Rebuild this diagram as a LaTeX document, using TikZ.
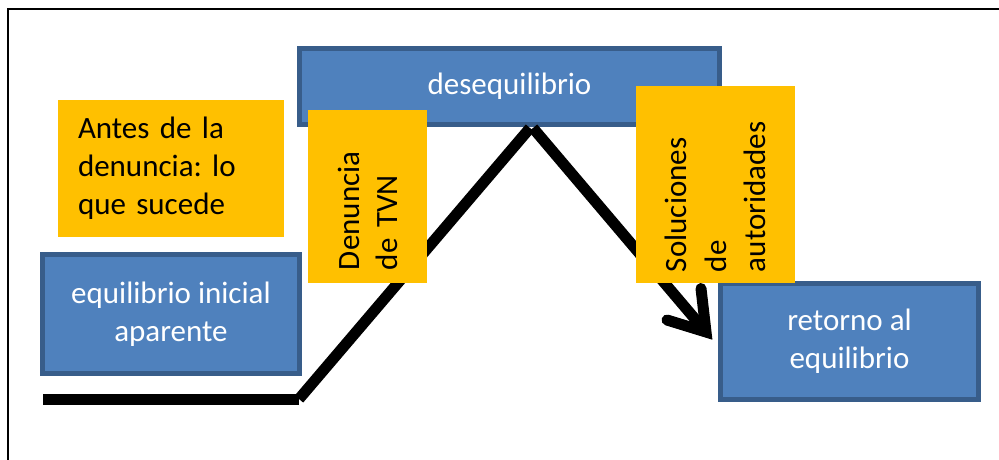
\documentclass[tikz,border=0pt]{standalone}
\usepackage{fontspec}
\setmainfont{Carlito}
\frenchspacing
\definecolor{bluefill}{HTML}{4F81BD}
\definecolor{bluedark}{HTML}{385D8A}
\definecolor{orangefill}{HTML}{FFC000}
\begin{document}
\frenchspacing
\begin{tikzpicture}[x=1pt,y=-1pt,
  txt/.style={font=\fontsize{31}{38}\selectfont},
  bluebox/.style={txt, draw=bluedark, fill=bluefill, line width=5pt, text=white, align=center, inner sep=0pt},
  orangebox/.style={txt, fill=orangefill, text=black, align=left, inner sep=0pt},
  thickline/.style={line width=11pt, line cap=butt, black},
  arrowarms/.style={line width=11pt, line cap=round, line join=miter, black}]
\useasboundingbox (0,0) rectangle (999,460);
\fill[white] (0,0) rectangle (999,460);
\draw[line width=2pt] (8,461) -- (8,9) -- (1000,9);
% blue boxes
\node[bluebox, minimum width=257pt, minimum height=119pt] (ini) at (171,314) {equilibrio inicial\\aparente};
\node[bluebox, minimum width=420pt, minimum height=76pt] (des) at (509.5,86.5) {desequilibrio};
\node[bluebox, minimum width=258pt, minimum height=116pt] (ret) at (849.5,341.5) {retorno al\\equilibrio};
% line
\coordinate (h0) at (43,399);
\coordinate (h1) at (299,399);
\coordinate (apexL) at (530,128);
\coordinate (apexR) at (533,128);
\coordinate (shaftEnd) at (701,326);
\coordinate (armL) at (667,320);
\coordinate (tip) at (706,332);
\coordinate (armR) at (701,288.5);
\draw[thickline] (h0) -- (h1);
\draw[thickline] (h1) -- (apexL);
\draw[thickline] (apexR) -- (shaftEnd);
\draw[arrowarms] (armL) -- (tip) -- (armR);
% orange boxes
\node[orangebox, minimum width=226pt, minimum height=137pt, text width=186pt] (antes) at (171,168.5) {Antes de la\\denuncia: lo\\que sucede};
\node[orangebox, rotate=90, minimum width=173pt, minimum height=119pt, text width=147pt] (tvn) at (367.5,196.5) {Denuncia\\de TVN};
\node[orangebox, rotate=90, minimum width=197pt, minimum height=159pt, text width=175pt, font=\fontsize{31}{39.5}\selectfont] (sol) at (715.5,184.5) {Soluciones\\de\\autoridades};
\end{tikzpicture}
\end{document}
